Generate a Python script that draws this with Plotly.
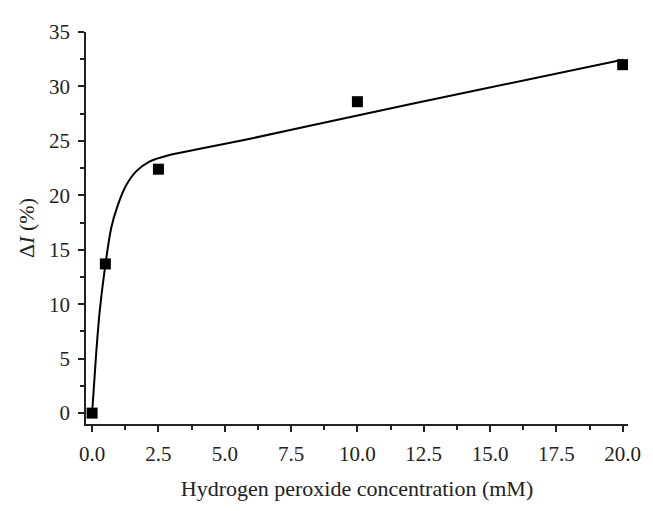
import plotly.graph_objects as go

# measured points
conc = [0.0, 0.5, 2.5, 10.0, 20.0]
delta_i = [0.0, 13.7, 22.4, 28.6, 32.0]

# fitted curve
fit_x = [0.0, 0.15, 0.28, 0.46, 0.72, 0.97, 1.28, 1.66, 2.16, 2.92, 3.92, 5.96, 9.74, 14.0, 20.0]
fit_y = [0.0, 5.35, 9.2, 12.9, 17.0, 19.1, 20.9, 22.2, 23.1, 23.7, 24.2, 25.2, 27.2, 29.4, 32.45]

x_ticks = [0.0, 2.5, 5.0, 7.5, 10.0, 12.5, 15.0, 17.5, 20.0]
y_ticks = [0, 5, 10, 15, 20, 25, 30, 35]

FONT = "Liberation Serif"
AXIS_COLOR = "#222222"

fig = go.Figure()

fig.add_trace(
    go.Scatter(
        x=fit_x,
        y=fit_y,
        mode="lines",
        line=dict(color="black", width=2, shape="spline", smoothing=0.8),
        hoverinfo="skip",
        showlegend=False,
    )
)

fig.add_trace(
    go.Scatter(
        x=conc,
        y=delta_i,
        mode="markers",
        marker=dict(symbol="square", size=11, color="black"),
        showlegend=False,
    )
)

# page body has an 8px margin, so the figure is sized/offset to compensate
fig.update_layout(
    width=645,
    height=503,
    paper_bgcolor="white",
    plot_bgcolor="white",
    margin=dict(l=78, r=25, t=14, b=87),
    font=dict(family=FONT, size=21, color="#222222"),
    xaxis=dict(
        range=[-0.23, 20.2],
        tickmode="array",
        tickvals=x_ticks,
        ticktext=[f"{v:.1f}" for v in x_ticks],
        ticks="outside",
        ticklen=6,
        tickwidth=1.5,
        tickcolor=AXIS_COLOR,
        ticklabelstandoff=4,
        minor=dict(ticks="outside", ticklen=4, tickwidth=1.5, tickcolor=AXIS_COLOR, dtick=1.25, tick0=0),
        showline=True,
        linecolor=AXIS_COLOR,
        linewidth=1.5,
        showgrid=False,
        zeroline=False,
        title=dict(text="Hydrogen peroxide concentration (mM)", standoff=16, font=dict(size=22)),
    ),
    yaxis=dict(
        range=[-1.0, 35.0],
        tickmode="array",
        tickvals=y_ticks,
        ticks="outside",
        ticklen=6,
        tickwidth=1.5,
        tickcolor=AXIS_COLOR,
        ticklabelstandoff=4,
        minor=dict(ticks="outside", ticklen=4, tickwidth=1.5, tickcolor=AXIS_COLOR, dtick=2.5, tick0=0),
        showline=True,
        linecolor=AXIS_COLOR,
        linewidth=1.5,
        showgrid=False,
        zeroline=False,
        title=dict(text="Δ<i>I</i> (%)", standoff=8, font=dict(size=22)),
    ),
)

fig.write_html("out.html")
